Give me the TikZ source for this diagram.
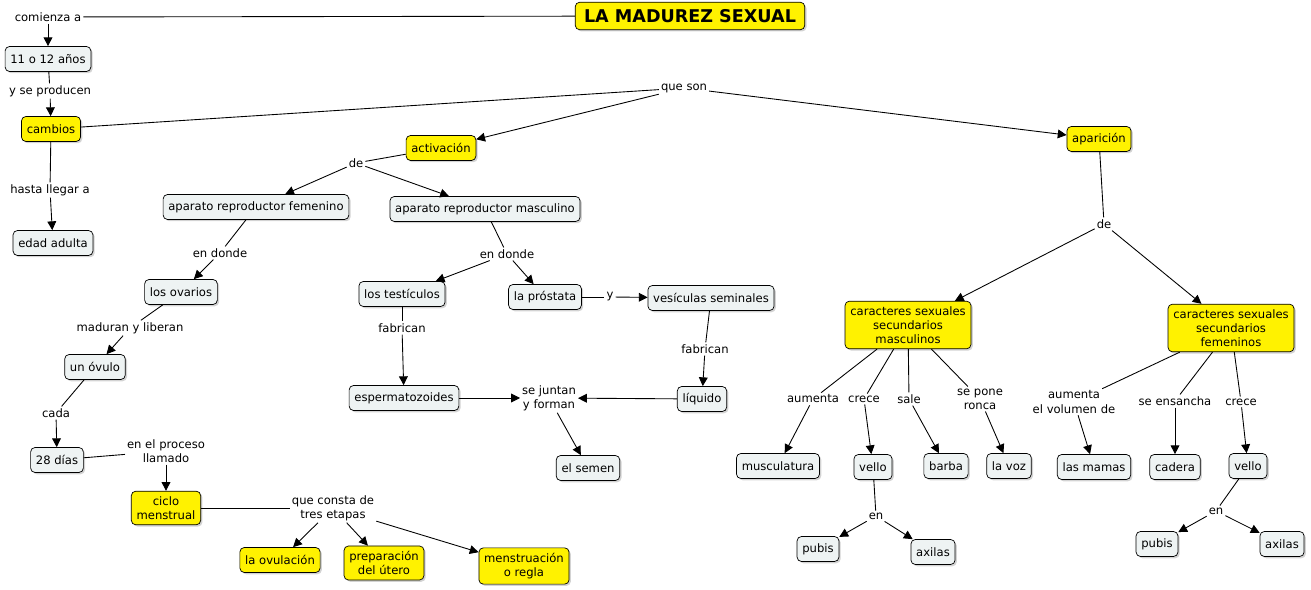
\documentclass[tikz,border=0pt]{standalone}
\usepackage{fontspec}
\setmainfont{DejaVu Sans}
\usetikzlibrary{arrows.meta,shadows}
\definecolor{cgray}{HTML}{EEF3F3}
\begin{document}
\begin{tikzpicture}[x=0.02cm,y=-0.02cm,
  every node/.style={font=\fontsize{6.6}{8}\selectfont,align=center},
  c/.style={draw=black,rounded corners=2.5pt,fill=cgray,inner sep=3pt,minimum height=0.5cm,
    drop shadow={shadow xshift=1pt,shadow yshift=-1pt,opacity=0.35}},
  yc/.style={c,fill=yellow},
  l/.style={fill=white,inner sep=1pt},
  ln/.style={draw=black,line width=0.5pt},
  ar/.style={ln,-{Triangle[length=5pt,width=5pt]}}]
\useasboundingbox (0,0) rectangle (1311,590);
% concepts
\node[yc,font=\fontsize{10}{12}\selectfont\bfseries,minimum height=0.55cm,inner xsep=5pt] (title) at (690,16) {LA MADUREZ SEXUAL};
\node[c] (anos) at (48,59) {11 o 12 años};
\node[yc] (camb) at (51,129) {cambios};
\node[c] (edad) at (53,243) {edad adulta};
\node[yc] (act) at (441,148) {activación};
\node[yc] (apar) at (1099,139) {aparición};
\node[c] (fem) at (256,207) {aparato reproductor femenino};
\node[c] (masc) at (485,209) {aparato reproductor masculino};
\node[c] (ova) at (181,292) {los ovarios};
\node[c] (test) at (402,294) {los testículos};
\node[c] (pros) at (545,297) {la próstata};
\node[c] (vesi) at (711,298) {vesículas seminales};
\node[c] (ovu) at (95,367) {un óvulo};
\node[c] (esp) at (404,398) {espermatozoides};
\node[c] (liq) at (702,399) {líquido};
\node[c] (dias) at (57,460) {28 días};
\node[c] (semen) at (588,468) {el semen};
\node[yc] (ciclo) at (166,508) {ciclo\\menstrual};
\node[yc] (ovul) at (280,560) {la ovulación};
\node[yc] (prep) at (384,563) {preparación\\del útero};
\node[yc] (menst) at (524,566) {menstruación\\o regla};
\node[yc] (csm) at (908,325) {caracteres sexuales\\secundarios\\masculinos};
\node[yc] (csf) at (1231,328) {caracteres sexuales\\secundarios\\femeninos};
\node[c] (musc) at (778,466) {musculatura};
\node[c] (vello1) at (873,467) {vello};
\node[c] (barba) at (946,466) {barba};
\node[c] (voz) at (1009,466) {la voz};
\node[c] (mamas) at (1094,467) {las mamas};
\node[c] (cad) at (1175,467) {cadera};
\node[c] (vello2) at (1248,466) {vello};
\node[c] (pub1) at (818,549) {pubis};
\node[c] (axi1) at (933,552) {axilas};
\node[c] (pub2) at (1157,544) {pubis};
\node[c] (axi2) at (1282,544) {axilas};
% linking phrases
\node[l] (comi) at (48,17) {comienza a};
\node[l] (yse) at (50,91) {y se producen};
\node[l] (hasta) at (50,190) {hasta llegar a};
\node[l] (queson) at (684,88) {que son};
\node[l] (de1) at (356,163) {de};
\node[l] (end1) at (220,253) {en donde};
\node[l] (end2) at (507,254) {en donde};
\node[l] (yy) at (610,297) {y};
\node[l] (mad) at (130,328) {maduran y liberan};
\node[l] (fab1) at (402,328) {fabrican};
\node[l] (fab2) at (705,349) {fabrican};
\node[l] (junt) at (549,398) {se juntan\\y forman};
\node[l] (cada) at (56,413) {cada};
\node[l] (proc) at (166,451) {en el proceso\\llamado};
\node[l] (consta) at (333,508) {que consta de\\tres etapas};
\node[l] (de2) at (1104,224) {de};
\node[l] (aum) at (813,399) {aumenta};
\node[l] (crece1) at (864,399) {crece};
\node[l] (sale) at (909,399) {sale};
\node[l] (ronca) at (980,399) {se pone\\ronca};
\node[l] (vol) at (1074,402) {aumenta\\el volumen de};
\node[l] (ens) at (1175,401) {se ensancha};
\node[l] (crece2) at (1241,402) {crece};
\node[l] (en1) at (876,516) {en};
\node[l] (en2) at (1216,511) {en};
% connectors
\draw[ln] (title) -- (comi); \draw[ar] (comi) -- (anos);
\draw[ln] (anos) -- (yse); \draw[ar] (yse) -- (camb);
\draw[ln] (camb) -- (hasta); \draw[ar] (hasta) -- (edad);
\draw[ln] (camb) -- (queson); \draw[ar] (queson) -- (act); \draw[ar] (queson) -- (apar);
\draw[ln] (act) -- (de1); \draw[ar] (de1) -- (fem); \draw[ar] (de1) -- (masc);
\draw[ln] (fem) -- (end1); \draw[ar] (end1) -- (ova);
\draw[ln] (masc) -- (end2); \draw[ar] (end2) -- (test); \draw[ar] (end2) -- (pros);
\draw[ln] (pros) -- (yy); \draw[ar] (yy) -- (vesi);
\draw[ln] (ova) -- (mad); \draw[ar] (mad) -- (ovu);
\draw[ln] (ovu) -- (cada); \draw[ar] (cada) -- (dias);
\draw[ln] (dias) -- (proc); \draw[ar] (proc) -- (ciclo);
\draw[ln] (ciclo) -- (consta); \draw[ar] (consta) -- (ovul); \draw[ar] (consta) -- (prep); \draw[ar] (consta) -- (menst);
\draw[ln] (test) -- (fab1); \draw[ar] (fab1) -- (esp);
\draw[ln] (vesi) -- (fab2); \draw[ar] (fab2) -- (liq);
\draw[ar] (esp) -- (junt); \draw[ar] (liq) -- (junt); \draw[ar] (junt) -- (semen);
\draw[ln] (apar) -- (de2); \draw[ar] (de2) -- (csm); \draw[ar] (de2) -- (csf);
\draw[ln] (csm) -- (aum); \draw[ar] (aum) -- (musc);
\draw[ln] (csm) -- (crece1); \draw[ar] (crece1) -- (vello1);
\draw[ln] (csm) -- (sale); \draw[ar] (sale) -- (barba);
\draw[ln] (csm) -- (ronca); \draw[ar] (ronca) -- (voz);
\draw[ln] (vello1) -- (en1); \draw[ar] (en1) -- (pub1); \draw[ar] (en1) -- (axi1);
\draw[ln] (csf) -- (vol); \draw[ar] (vol) -- (mamas);
\draw[ln] (csf) -- (ens); \draw[ar] (ens) -- (cad);
\draw[ln] (csf) -- (crece2); \draw[ar] (crece2) -- (vello2);
\draw[ln] (vello2) -- (en2); \draw[ar] (en2) -- (pub2); \draw[ar] (en2) -- (axi2);
\end{tikzpicture}
\end{document}
